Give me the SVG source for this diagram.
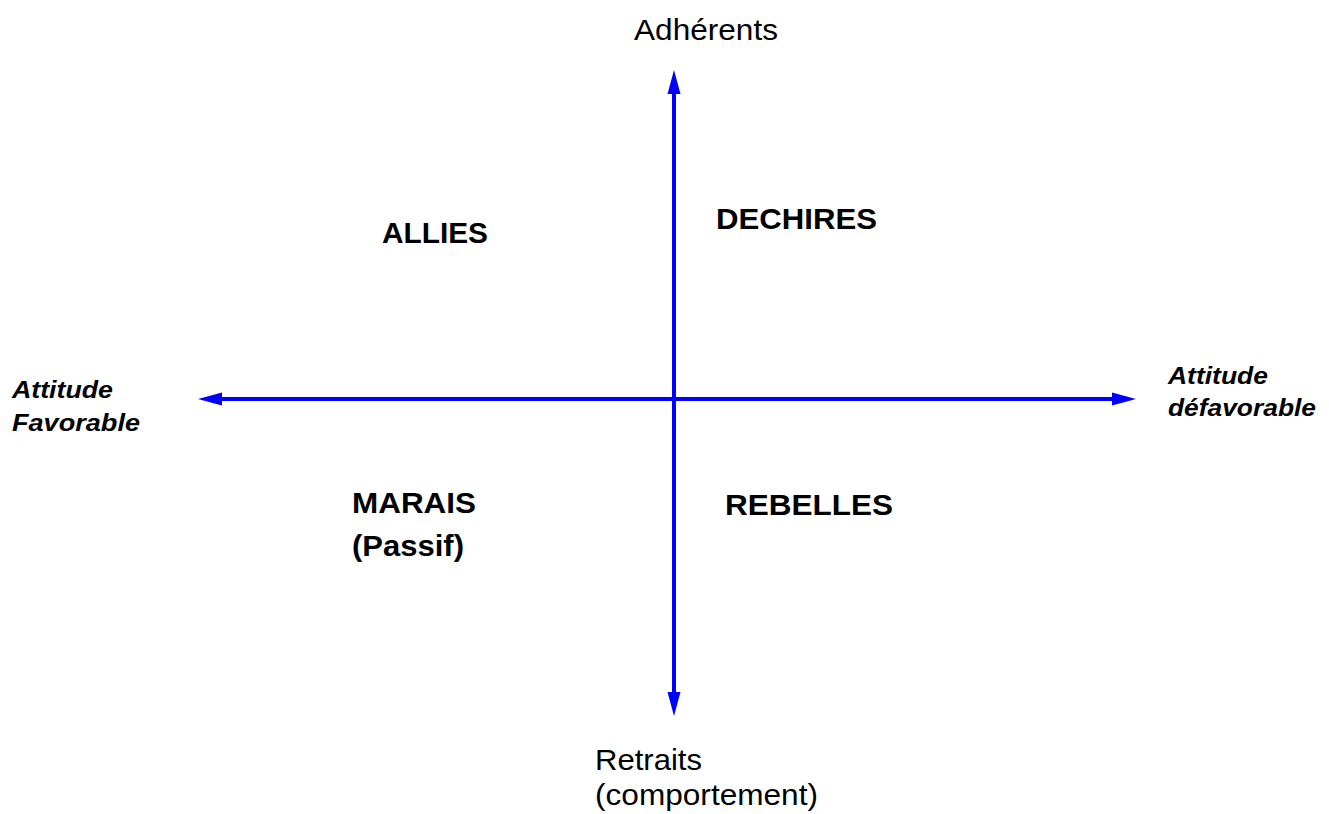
<svg xmlns="http://www.w3.org/2000/svg" width="1329" height="814" viewBox="0 0 1329 814">
<style>
.axis{stroke:#0000ff;stroke-width:4;fill:none}
.lbl{font-family:"Liberation Sans",Arial,sans-serif;font-size:30px;fill:#000}
.q{font-family:"Liberation Sans",Arial,sans-serif;font-size:30px;font-weight:bold;fill:#000}
.side{font-family:"Liberation Sans",Arial,sans-serif;font-size:23px;font-weight:bold;font-style:italic;fill:#000}
</style>
<defs>
<marker id="ah" markerUnits="userSpaceOnUse" markerWidth="30" markerHeight="20" viewBox="0 -10 30 20" refX="0" refY="0" orient="auto-start-reverse">
<path d="M0,-6.5 L24,0 L0,6.5 Z" fill="#0000ff"/>
</marker>
</defs>
<rect width="1329" height="814" fill="#fff"/>
<g id="connectors">
<line class="axis" x1="674" y1="94" x2="674" y2="692" marker-start="url(#ah)" marker-end="url(#ah)"/>
<line class="axis" x1="222" y1="399" x2="1112" y2="399" marker-start="url(#ah)" marker-end="url(#ah)"/>
</g>
<g id="adherents"><text class="lbl" x="634" y="40" textLength="144" lengthAdjust="spacingAndGlyphs">Adhérents</text></g>
<g id="retraits">
<text class="lbl" x="595" y="770" textLength="107" lengthAdjust="spacingAndGlyphs">Retraits</text>
<text class="lbl" x="595" y="805" textLength="223" lengthAdjust="spacingAndGlyphs">(comportement)</text>
</g>
<g id="favorable">
<text class="side" x="12" y="398" textLength="101" lengthAdjust="spacingAndGlyphs">Attitude</text>
<text class="side" x="12" y="431" textLength="128" lengthAdjust="spacingAndGlyphs">Favorable</text>
</g>
<g id="defavorable">
<text class="side" x="1168" y="384" textLength="100" lengthAdjust="spacingAndGlyphs">Attitude</text>
<text class="side" x="1168" y="416" textLength="148" lengthAdjust="spacingAndGlyphs">défavorable</text>
</g>
<g id="allies"><text class="q" x="382" y="243" textLength="106" lengthAdjust="spacingAndGlyphs">ALLIES</text></g>
<g id="dechires"><text class="q" x="716" y="229" textLength="161" lengthAdjust="spacingAndGlyphs">DECHIRES</text></g>
<g id="marais">
<text class="q" x="352" y="513" textLength="124" lengthAdjust="spacingAndGlyphs">MARAIS</text>
<text class="q" x="352" y="556" textLength="112" lengthAdjust="spacingAndGlyphs">(Passif)</text>
</g>
<g id="rebelles"><text class="q" x="725" y="515" textLength="168" lengthAdjust="spacingAndGlyphs">REBELLES</text></g>
</svg>
